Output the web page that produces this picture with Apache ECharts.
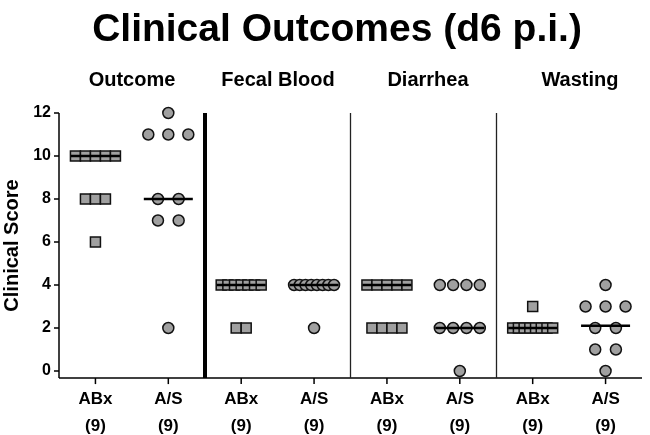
<!DOCTYPE html>
<html>
<head>
<meta charset="utf-8">
<script src="https://cdn.jsdelivr.net/npm/echarts@6/dist/echarts.min.js"></script>
<style>html,body{margin:0;padding:0;background:#fff}#c{width:650px;height:435px}</style>
</head>
<body>
<div id="c"></div>
<script>
const chartTitle = 'Clinical Outcomes (d6 p.i.)';
const yAxisName = 'Clinical Score';
const panels = ['Outcome', 'Fecal Blood', 'Diarrhea', 'Wasting'];
const categories = ['ABx', 'A/S', 'ABx', 'A/S', 'ABx', 'A/S', 'ABx', 'A/S'];
const groupSizes = ['(9)', '(9)', '(9)', '(9)', '(9)', '(9)', '(9)', '(9)'];
const yTicks = [0, 2, 4, 6, 8, 10, 12];
const yBase = -0.33;   // where the x axis line sits
const yMin = -0.605;   // room below the axis for its tick marks
const yMax = 12;

const outcomeABx = [10, 10, 10, 10, 10, 8, 8, 8, 6];
const outcomeAS = [12, 11, 11, 11, 8, 8, 7, 7, 2];
const fecalABx = [4, 4, 4, 4, 4, 4, 4, 2, 2];
const fecalAS = [4, 4, 4, 4, 4, 4, 4, 4, 2];
const diarrheaABx = [4, 4, 4, 4, 4, 2, 2, 2, 2];
const diarrheaAS = [4, 4, 4, 4, 2, 2, 2, 2, 0];
const wastingABx = [3, 2, 2, 2, 2, 2, 2, 2, 2];
const wastingAS = [4, 3, 3, 3, 2, 2, 1, 1, 0];
const medians = [10, 8, 4, 4, 4, 2, 2, 2.1];

const groups = [outcomeABx, outcomeAS, fecalABx, fecalAS, diarrheaABx, diarrheaAS, wastingABx, wastingAS];

// Prism-style row layout: points with equal value placed side by side
function layout(values, catIndex, maxSpacing) {
  const counts = {};
  values.forEach(v => { counts[v] = (counts[v] || 0) + 1; });
  const seen = {};
  return values.map(v => {
    const n = counts[v];
    const i = seen[v] = (seen[v] === undefined ? 0 : seen[v] + 1);
    const sp = n > 1 ? Math.min(maxSpacing, 40 / (n - 1)) : 0;
    return { value: [catIndex, v], symbolOffset: [(i - (n - 1) / 2) * sp, 0] };
  });
}

const squareData = [];
const circleData = [];
groups.forEach((g, idx) => {
  if (idx % 2 === 0) squareData.push(...layout(g, idx, 10));
  else circleData.push(...layout(g, idx, 20.7));
});

const medianData = medians.map((m, i) => [i, m]);
const catTickData = categories.map((c, i) => [i, yBase]);
const nCat = categories.length;

const FONT = 'Liberation Sans, Arial, sans-serif';
const chart = echarts.init(document.getElementById('c'), null, { renderer: 'canvas' });

const panelCenters = [132, 278, 428, 580];

const axisLineStyle = { width: 1.5, color: '#000', type: 'solid' };

chart.setOption({
  animation: false,
  backgroundColor: '#fff',
  title: {
    text: chartTitle,
    left: 332, top: 6, textAlign: 'center',
    textStyle: { fontFamily: FONT, fontWeight: 'bold', fontSize: 39, color: '#000' }
  },
  graphic: panels.map((p, i) => ({
    type: 'text', x: panelCenters[i], y: 80,
    style: { text: p, fontFamily: FONT, fontWeight: 'bold', fontSize: 20, fill: '#000', textAlign: 'center', textVerticalAlign: 'middle' }
  })),
  grid: { left: 59, right: 8, top: 113, bottom: 51, outerBoundsMode: 'none', containLabel: false },
  xAxis: [{
    type: 'category',
    data: categories,
    boundaryGap: true,
    axisLine: { show: false, onZero: false },
    axisTick: { show: false },
    axisLabel: {
      margin: 2,
      interval: 0,
      formatter: (v, i) => v + '\n' + groupSizes[i],
      fontFamily: FONT, fontWeight: 'bold', fontSize: 17, color: '#000', lineHeight: 27
    },
    splitLine: { show: false }
  }, {
    type: 'value', min: 0, max: nCat, show: false
  }],
  yAxis: {
    type: 'value',
    min: yMin, max: yMax,
    name: yAxisName,
    nameLocation: 'middle',
    nameGap: 35,
    nameTextStyle: { fontFamily: FONT, fontWeight: 'bold', fontSize: 20, color: '#000', padding: [0, 0, 0, 6] },
    axisLine: { show: false, onZero: false },
    axisTick: { show: true, length: 5, customValues: yTicks, lineStyle: { color: '#000', width: 1.5 } },
    axisLabel: { customValues: yTicks, margin: 8, fontFamily: FONT, fontWeight: 'bold', fontSize: 16, color: '#000' },
    splitLine: { show: false }
  },
  series: [
    {
      type: 'line', xAxisIndex: 1, data: [], silent: true,
      markLine: {
        silent: true, symbol: 'none', label: { show: false },
        lineStyle: axisLineStyle,
        data: [
          [{ coord: [0, yBase], lineStyle: axisLineStyle }, { coord: [0, yMax] }],
          [{ coord: [0, yBase], lineStyle: axisLineStyle }, { coord: [nCat, yBase] }],
          [{ coord: [2, yBase], lineStyle: { width: 4, color: '#000', type: 'solid' } }, { coord: [2, yMax] }],
          [{ coord: [4, yBase], lineStyle: { width: 1.3, color: '#222', type: 'solid' } }, { coord: [4, yMax] }],
          [{ coord: [6, yBase], lineStyle: { width: 1.3, color: '#222', type: 'solid' } }, { coord: [6, yMax] }]
        ]
      }
    },
    {
      type: 'scatter', symbol: 'rect', symbolSize: [1.5, 6], symbolOffset: [0, 3], data: catTickData,
      clip: false, silent: true, z: 10,
      itemStyle: { color: '#000', opacity: 1, borderWidth: 0 }
    },
    {
      type: 'scatter', symbol: 'rect', symbolSize: 10, data: squareData, z: 3,
      itemStyle: { color: '#a0a0a0', borderColor: '#111', borderWidth: 1.5, opacity: 1 }
    },
    {
      type: 'scatter', symbol: 'circle', symbolSize: 11, data: circleData, z: 3,
      itemStyle: { color: '#a0a0a0', borderColor: '#111', borderWidth: 1.5, opacity: 1 }
    },
    {
      type: 'scatter', symbol: 'rect', symbolSize: [49, 2.5], data: medianData, z: 4,
      itemStyle: { color: '#000', opacity: 1 }
    }
  ]
});
</script>
</body>
</html>
